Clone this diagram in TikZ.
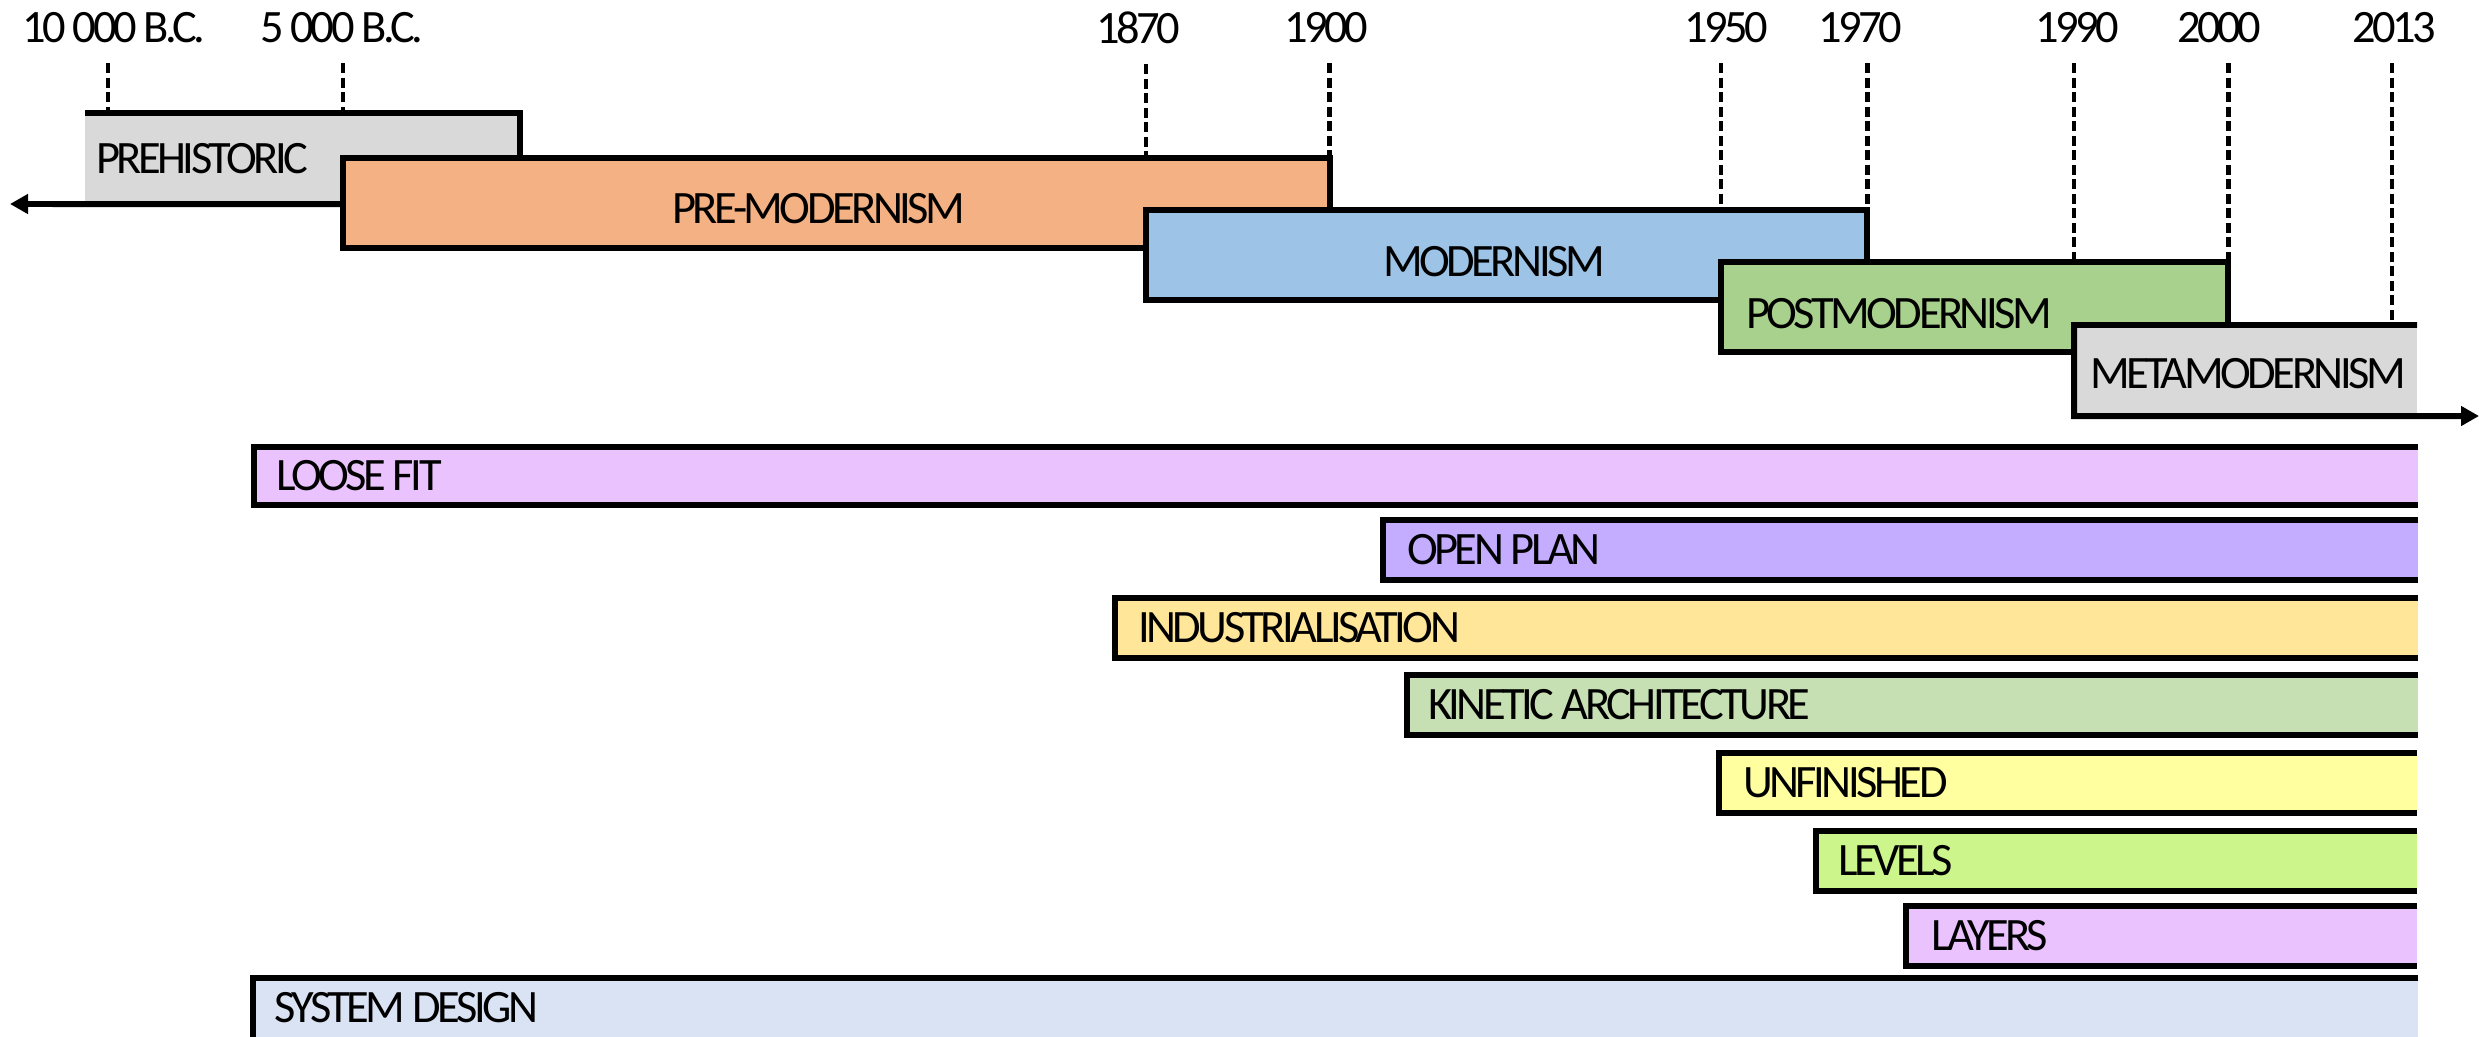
\documentclass[tikz,border=0pt]{standalone}
\usepackage{fontspec}
\setmainfont{Carlito}[LetterSpace=-7.5]
\usetikzlibrary{arrows.meta,backgrounds,calc}
\definecolor{cgray}{HTML}{D9D9D9}
\definecolor{corange}{HTML}{F4B183}
\definecolor{cblue}{HTML}{9DC3E6}
\definecolor{cgreen}{HTML}{A9D18E}
\definecolor{clav}{HTML}{E9C2FE}
\definecolor{cpurple}{HTML}{C4ACFE}
\definecolor{cyel}{HTML}{FFE699}
\definecolor{csage}{HTML}{C6E0B4}
\definecolor{cpale}{HTML}{FFFF9F}
\definecolor{clime}{HTML}{CCF58C}
\definecolor{csky}{HTML}{DAE3F3}
\begin{document}
\begin{tikzpicture}[x=0.01cm,y=-0.01cm,
  box/.style={draw=none,inner sep=0pt,outer sep=0pt,anchor=north west},
  bline/.style={line width=1.7pt,line join=miter,line cap=butt},
  tick/.style={line width=1.25pt,dash pattern=on 0.1cm off 0.045cm},
  txt/.style={inner sep=0pt,outer sep=0pt,anchor=west,font=\fontsize{13.2}{15}\selectfont},
  yr/.style={inner sep=0pt,outer sep=0pt,font=\fontsize{13.2}{15}\selectfont},
  tip/.style={-{Triangle[length=0.18cm,width=0.19cm]}}]
\useasboundingbox (0,0) rectangle (2479,1036);

% year labels
\node[yr] (y10k) at (114,28) {10 000 B.C.};
\node[yr] (y5k)  at (342,28) {5 000 B.C.};
\node[yr] (y1870) at (1138,28) {1870};
\node[yr] (y1900) at (1326,28) {1900};
\node[yr] (y1950) at (1726,28) {1950};
\node[yr] (y1970) at (1860,28) {1970};
\node[yr] (y1990) at (2077,28) {1990};
\node[yr] (y2000) at (2219,28) {2000};
\node[yr] (y2013) at (2394,28) {2013};

\coordinate (la) at (10,204);
\coordinate (ra) at (2479,416);

% PREHISTORIC
\node[box,fill=cgray,minimum width=4.35cm,minimum height=0.91cm] (pre) at (85,113) {};
\draw[bline] (pre.north west) -- (pre.north east) -- (pre.south east);
\draw[bline,tip] (pre.south east) -- (la);
\node[txt] (tpre) at ([xshift=0.11cm]pre.west) {PREHISTORIC};

% PRE-MODERNISM
\node[box,fill=corange,minimum width=9.86cm,minimum height=0.90cm] (prem) at (343,158) {};
\draw[bline] (prem.north west) rectangle (prem.south east);
\node[txt] (tprem) at ([xshift=3.29cm,yshift=-0.06cm]prem.west) {PRE-MODERNISM};

% MODERNISM
\node[box,fill=cblue,minimum width=7.21cm,minimum height=0.90cm] (mod) at (1146,210) {};
\draw[bline] (mod.north west) rectangle (mod.south east);
\node[txt] (tmod) at ([xshift=2.37cm,yshift=-0.07cm]mod.west) {MODERNISM};

% POSTMODERNISM
\node[box,fill=cgreen,minimum width=5.07cm,minimum height=0.90cm] (post) at (1721,262) {};
\draw[bline] (post.north west) rectangle (post.south east);
\node[txt] (tpost) at ([xshift=0.25cm,yshift=-0.07cm]post.west) {POSTMODERNISM};

% METAMODERNISM
\node[box,fill=cgray,minimum width=3.43cm,minimum height=0.91cm] (meta) at (2074,325) {};
\draw[bline,tip] (meta.north east) -- (meta.north west) -- (meta.south west) -- (ra);
\node[txt] (tmeta) at ([xshift=0.16cm,yshift=-0.035cm]meta.west) {METAMODERNISM};

% ticks (behind)
\begin{scope}[on background layer]
\draw[tick] ($(y10k.south)+(-6,20)$) -- ($(y10k.south |- pre.north)+(-6,0)$);
\draw[tick] ($(prem.north west |- y5k.south)+(0,20)$) -- (prem.north west);
\draw[tick] ($(mod.north west |- y1870.south)+(0,20)$) -- (mod.north west);
\draw[tick] ($(prem.north east |- y1900.south)+(0,20)$) -- (prem.north east);
\draw[tick] ($(post.north west |- y1950.south)+(0,20)$) -- (post.north west);
\draw[tick] ($(mod.north east |- y1970.south)+(0,20)$) -- (mod.north east);
\draw[tick] ($(meta.north west |- y1990.south)+(0,20)$) -- (meta.north west);
\draw[tick] ($(post.north east |- y2000.south)+(0,20)$) -- (post.north east);
\draw[tick] ($(y2013.south)+(-2,20)$) -- ($(y2013.south |- meta.north)+(-2,0)$);
\end{scope}

% concept bars
\node[box,fill=clav,minimum width=21.63cm,minimum height=0.58cm] (lf) at (254,447) {};
\draw[bline] (lf.north east) -- (lf.north west) -- (lf.south west) -- (lf.south east);
\node[txt] (tlf) at ([xshift=0.22cm]lf.west) {LOOSE FIT};

\node[box,fill=cpurple,minimum width=10.34cm,minimum height=0.60cm] (op) at (1383,520) {};
\draw[bline] (op.north east) -- (op.north west) -- (op.south west) -- (op.south east);
\node[txt] (top) at ([xshift=0.24cm]op.west) {OPEN PLAN};

\node[box,fill=cyel,minimum width=13.02cm,minimum height=0.60cm] (ind) at (1115,598) {};
\draw[bline] (ind.north east) -- (ind.north west) -- (ind.south west) -- (ind.south east);
\node[txt] (tind) at ([xshift=0.23cm]ind.west) {INDUSTRIALISATION};

\node[box,fill=csage,minimum width=10.10cm,minimum height=0.60cm] (kin) at (1407,675) {};
\draw[bline] (kin.north east) -- (kin.north west) -- (kin.south west) -- (kin.south east);
\node[txt] (tkin) at ([xshift=0.21cm]kin.west) {KINETIC ARCHITECTURE};

\node[box,fill=cpale,minimum width=6.98cm,minimum height=0.60cm] (unf) at (1719,753) {};
\draw[bline] (unf.north east) -- (unf.north west) -- (unf.south west) -- (unf.south east);
\node[txt] (tunf) at ([xshift=0.24cm]unf.west) {UNFINISHED};

\node[box,fill=clime,minimum width=6.01cm,minimum height=0.60cm] (lev) at (1816,831) {};
\draw[bline] (lev.north east) -- (lev.north west) -- (lev.south west) -- (lev.south east);
\node[txt] (tlev) at ([xshift=0.22cm]lev.west) {LEVELS};

\node[box,fill=clav,minimum width=5.11cm,minimum height=0.60cm] (lay) at (1906,906) {};
\draw[bline] (lay.north east) -- (lay.north west) -- (lay.south west) -- (lay.south east);
\node[txt] (tlay) at ([xshift=0.25cm]lay.west) {LAYERS};

\node[box,fill=csky,minimum width=21.64cm,minimum height=0.62cm] (sys) at (253,978) {};
\draw[bline] (sys.north east) -- (sys.north west) -- (sys.south west);
\node[txt] (tsys) at ([xshift=0.21cm,yshift=0.01cm]sys.west) {SYSTEM DESIGN};
\end{tikzpicture}
\end{document}
